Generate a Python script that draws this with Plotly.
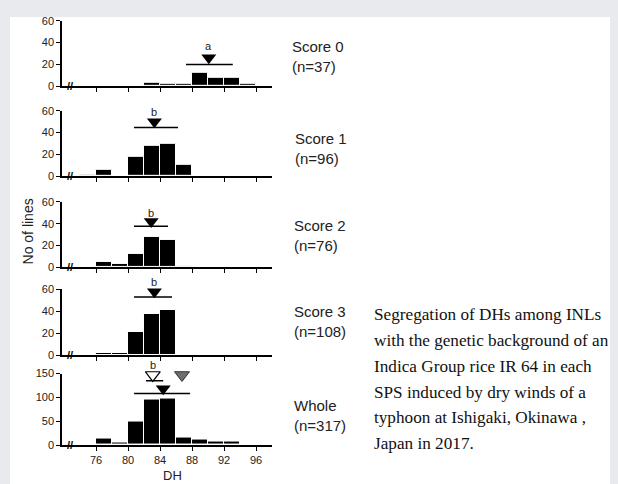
import plotly.graph_objects as go
from plotly.subplots import make_subplots

# ---- data ----
bin_centers = [75, 77, 79, 81, 83, 85, 87, 89, 91, 93, 95]
score0 = [0, 0, 0, 0, 3, 2, 2, 12, 8, 8, 2]
score1 = [1, 6, 0, 18, 28, 30, 10, 0, 0, 0, 0]
score2 = [0, 5, 3, 12, 28, 25, 1, 0, 0, 0, 0]
score3 = [0, 2, 2, 21, 37, 41, 0, 0, 0, 0, 0]
whole = [2, 14, 5, 50, 95, 97, 16, 12, 7, 7, 1]
series = [score0, score1, score2, score3, whole]

panel_labels = ["Score 0<br>(n=37)", "Score 1<br>(n=96)", "Score 2<br>(n=76)",
                "Score 3<br>(n=108)", "Whole<br>(n=317)"]
mean_x = [90.1, 83.3, 82.9, 83.3, 84.4]
mean_y = [26, 50, 42, 57.6, 118]
range_lo = [87.25, 80.75, 80.75, 80.75, 80.75]
range_hi = [93.1, 86.25, 85.0, 85.5, 87.75]
range_y = [20, 44.8, 37.6, 52.8, 108]
letters = ["a", "b", "b", "b", "b"]
letter_x = [90.1, 83.3, 82.9, 83.3, 83.1]
letter_y = [37, 58.5, 50, 66, 169]
# whole panel extra markers
open_tri_x, open_tri_y = 83.1, 147
open_lo, open_hi, open_line_y = 82.25, 84.4, 135
gray_tri_x, gray_tri_y = 86.75, 147

y_ticks = [[0, 20, 40, 60]] * 4 + [[0, 50, 100, 150]]
y_max = [60, 60, 60, 60, 150]
x_ticks = [76, 80, 84, 88, 92, 96]

caption = ["Segregation of DHs among INLs",
           "with the genetic background of an",
           "Indica Group rice IR 64 in each",
           "SPS induced by dry winds of a",
           "typhoon at Ishigaki, Okinawa ,",
           "Japan in 2017."]

W, H = 618, 484
OX, OY = 8, 8  # page offset of the figure in the window (body margin)
BG = "#E9EAEE"


def px(x):
    return (x - OX) / W


def py(y):
    return 1 - (y - OY) / H


# panel pixel positions (top tick, zero)
panel_px = [(15, 82), (107.3, 174.3), (200.7, 267.7), (290, 357.7), (376.7, 450)]
# label x, centre of the two-line block
label_px = [(290, 51.5), (292.5, 146), (291.5, 235.5), (291.5, 323), (291.5, 419.5)]

fig = make_subplots(rows=5, cols=1)
for i, vals in enumerate(series):
    r = i + 1
    fig.add_trace(go.Bar(x=bin_centers, y=vals, width=2,
                         marker=dict(color="black", line=dict(color="white", width=1)),
                         showlegend=False), row=r, col=1)
    fig.add_trace(go.Scatter(x=[range_lo[i], range_hi[i]], y=[range_y[i], range_y[i]],
                             mode="lines", line=dict(color="black", width=1.5),
                             showlegend=False, cliponaxis=False), row=r, col=1)
    fig.add_trace(go.Scatter(x=[mean_x[i]], y=[mean_y[i]], mode="markers",
                             marker=dict(symbol="triangle-down", size=13, color="black"),
                             showlegend=False, cliponaxis=False), row=r, col=1)

# whole panel extras
fig.add_trace(go.Scatter(x=[open_lo, open_hi], y=[open_line_y, open_line_y], mode="lines",
                         line=dict(color="black", width=1.5), showlegend=False,
                         cliponaxis=False), row=5, col=1)
fig.add_trace(go.Scatter(x=[open_tri_x], y=[open_tri_y], mode="markers",
                         marker=dict(symbol="triangle-down", size=13, color="white",
                                     line=dict(color="black", width=1.2)),
                         showlegend=False, cliponaxis=False), row=5, col=1)
fig.add_trace(go.Scatter(x=[gray_tri_x], y=[gray_tri_y], mode="markers",
                         marker=dict(symbol="triangle-down", size=13, color="#6e6e6e",
                                     line=dict(color="#333333", width=1)),
                         showlegend=False, cliponaxis=False), row=5, col=1)

for i in range(5):
    r = i + 1
    top, zero = panel_px[i]
    dom = [py(zero), py(top)]
    xkey = "xaxis" if r == 1 else f"xaxis{r}"
    ykey = "yaxis" if r == 1 else f"yaxis{r}"
    fig.layout[xkey].update(domain=[px(62), px(272)], range=[71.75, 98], tickvals=x_ticks,
                            ticktext=[str(t) for t in x_ticks] if r == 5 else [""] * 6,
                            ticks="outside", ticklen=4, tickwidth=1.2, tickcolor="black",
                            showline=True, linecolor="black", linewidth=1.5,
                            showgrid=False, zeroline=False,
                            tickfont=dict(family="Liberation Sans", size=11, color="#222"))
    fig.layout[ykey].update(domain=dom, range=[0, y_max[i]], tickvals=y_ticks[i],
                            ticks="outside", ticklen=4, tickwidth=1.2, tickcolor="black",
                            showline=True, linecolor="black", linewidth=1.5,
                            showgrid=False, zeroline=False,
                            tickfont=dict(family="Liberation Sans", size=11, color="#222"))
    xr = "x" if r == 1 else f"x{r}"
    yr = "y" if r == 1 else f"y{r}"
    # significance letter (axis-domain units so it can sit above the axis top)
    fig.add_annotation(x=letter_x[i], y=letter_y[i] / y_max[i], xref=xr,
                       yref=yr + " domain", xanchor="center", yanchor="middle",
                       text=letters[i], showarrow=False,
                       font=dict(family="Liberation Sans", size=11, color="#222"))
    # axis break
    fig.add_annotation(x=72.8, y=0, xref=xr, yref=yr + " domain", xanchor="center",
                       yanchor="middle", text="<b>//</b>", showarrow=False,
                       font=dict(family="Liberation Sans", size=11, color="black"))
    # panel label
    lx, ly = label_px[i]
    fig.add_annotation(x=px(lx), y=py(ly), xref="paper", yref="paper",
                       xanchor="left", yanchor="middle", align="left",
                       text=panel_labels[i], showarrow=False,
                       font=dict(family="Liberation Sans", size=15, color="#222"))

# axis titles
fig.add_annotation(x=px(18), y=py(231), xref="paper", yref="paper", text="No of lines",
                   textangle=-90, showarrow=False,
                   font=dict(family="Liberation Sans", size=14, color="#222"))
fig.add_annotation(x=px(161), y=py(481), xref="paper", yref="paper", text="DH",
                   yanchor="middle", showarrow=False,
                   font=dict(family="Liberation Sans", size=13, color="#222"))

# caption
for k, line in enumerate(caption):
    fig.add_annotation(x=px(372), y=py(316.5 + 26.4 * k), xref="paper", yref="paper",
                       xanchor="left", yanchor="middle", text=line, showarrow=False,
                       font=dict(family="Liberation Serif", size=17.2, color="#111"))

# white content area over gray page background
fig.add_shape(type="rect", xref="paper", yref="paper", x0=px(10), x1=px(615),
              y0=0, y1=py(11), fillcolor="white", line=dict(width=0), layer="below")

fig.update_layout(width=W, height=H, margin=dict(l=0, r=0, t=0, b=0),
                  paper_bgcolor=BG, plot_bgcolor="rgba(0,0,0,0)",
                  bargap=0, showlegend=False)

fig.write_html("out.html",
               post_script="document.body.style.background='" + BG + "';")
